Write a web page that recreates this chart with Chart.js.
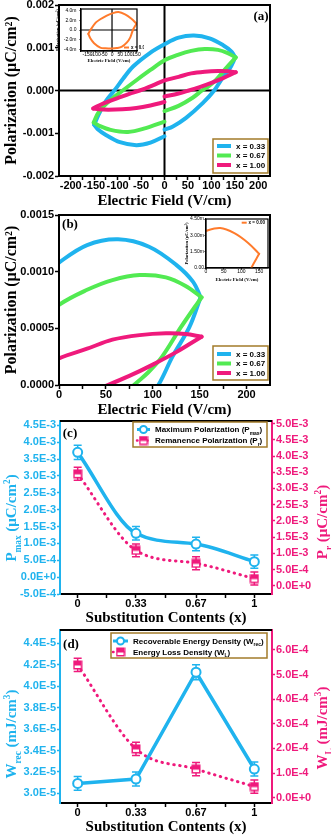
<!DOCTYPE html>
<html>
<head>
<meta charset="utf-8">
<title>P-E loops and energy density</title>
<script src="https://cdn.jsdelivr.net/npm/chart.js@4.4.1/dist/chart.umd.min.js"></script>
<style>
  body { margin: 0; background: #fff; }
  #fig { position: relative; width: 331px; height: 836px; overflow: hidden; background: #fff; }
  #fig canvas { position: absolute; }
</style>
</head>
<body>
<div id="fig">
  <canvas id="panelA" width="331" height="210" style="left:0;top:0"></canvas>
  <canvas id="panelB" width="331" height="211" style="left:0;top:207px"></canvas>
  <canvas id="panelC" width="331" height="212" style="left:0;top:414px"></canvas>
  <canvas id="panelD" width="331" height="214" style="left:0;top:622px"></canvas>
  <canvas id="insetA" width="90" height="62" style="left:54px;top:5px"></canvas>
  <canvas id="insetB" width="90" height="70" style="left:183px;top:214px"></canvas>
</div>
<script>
// ---------- data ----------
const fieldTicksA = [-200, -150, -100, -50, 0, 50, 100, 150, 200];
const fieldTicksB = [0, 50, 100, 150, 200];
const polTicksA = [-0.002, -0.001, 0, 0.001, 0.002];
const polTicksB = [0, 0.0005, 0.001, 0.0015];
const insetFieldTicksA = [-150, -100, -50, 0, 50, 100, 150];
const insetFieldTicksB = [0, 50, 100, 150];
const insetPolTicksA = [-0.004, -0.002, 0, 0.002, 0.004];
const insetPolTicksB = [0, 0.0015, 0.003, 0.0045];

const loopLabels = ['x = 0.33', 'x = 0.67', 'x = 1.00'];
const insetLabel = 'x = 0.00';

// [E (V/cm), P (µC/cm²)], upper branch left tip -> right tip, lower branch back
const loop033Up = [[-150, -0.80e-3], [-139, -0.53e-3], [-125, -0.25e-3], [-107, 0], [-88, 0.28e-3], [-67, 0.56e-3],
  [-32, 0.87e-3], [0, 1.08e-3], [30, 1.235e-3], [63, 1.285e-3], [96, 1.22e-3], [125, 1.06e-3], [143, 0.91e-3], [151, 0.774e-3]];
const loop033Down = [[151, 0.774e-3], [139, 0.51e-3], [121, 0.25e-3], [106, 0], [82, -0.29e-3], [46, -0.64e-3], [18, -0.84e-3],
  [0, -0.915e-3], [0, null], [0, -1.07e-3], [-30, -1.22e-3], [-60, -1.28e-3], [-95, -1.21e-3], [-125, -1.04e-3], [-143, -0.90e-3], [-150, -0.80e-3]];
const loop067Up = [[-151, -0.75e-3], [-140, -0.50e-3], [-115, -0.22e-3], [-89, 0], [-60, 0.24e-3], [-30, 0.48e-3], [0, 0.706e-3],
  [30, 0.84e-3], [57, 0.926e-3], [86, 0.97e-3], [114, 0.95e-3], [135, 0.874e-3], [152, 0.774e-3]];
const loop067Down = [[152, 0.774e-3], [130, 0.51e-3], [110, 0.25e-3], [95, 0.11e-3], [80, 0], [60, -0.17e-3], [30, -0.36e-3],
  [0, -0.48e-3], [0, null], [0, -0.73e-3], [-40, -0.88e-3], [-78, -0.97e-3], [-115, -0.92e-3], [-140, -0.82e-3], [-151, -0.75e-3]];
const loop100Up = [[-152, -0.42e-3], [-130, -0.30e-3], [-100, -0.18e-3], [-75, -0.08e-3], [-53, 0], [-25, 0.12e-3], [0, 0.235e-3],
  [30, 0.32e-3], [57, 0.40e-3], [86, 0.44e-3], [114, 0.456e-3], [135, 0.45e-3], [152, 0.426e-3]];
const loop100Down = [[152, 0.426e-3], [125, 0.29e-3], [100, 0.18e-3], [75, 0.08e-3], [52, 0], [30, -0.07e-3], [0, -0.14e-3],
  [0, null], [0, -0.27e-3], [-30, -0.35e-3], [-60, -0.41e-3], [-90, -0.44e-3], [-120, -0.45e-3], [-140, -0.44e-3], [-152, -0.42e-3]];
const loop000Up = [[-145, -0.8e-3], [-132, 0], [-100, 1.5e-3], [-72, 2.2e-3], [-35, 2.9e-3], [0, 3.4e-3], [40, 3.67e-3],
  [80, 3.2e-3], [119, 2.3e-3], [150, 1.3e-3]];
const loop000Down = [[150, 1.3e-3], [128, 0], [112, -1.5e-3], [90, -2.6e-3], [61, -3.4e-3], [30, -3.7e-3], [0, -3.8e-3],
  [-40, -3.75e-3], [-72, -3.6e-3], [-110, -2.7e-3], [-133, -1.7e-3], [-145, -0.8e-3]];

const contents = [0, 0.33, 0.67, 1];
const contentLabels = ['0', '0.33', '0.67', '1'];
const contentMinor = [0.165, 0.5, 0.835];
const pMax = [3.70e-3, 1.30e-3, 0.98e-3, 0.46e-3];
const pMaxErr = [0.21e-3, 0.2e-3, 0.2e-3, 0.2e-3];
const pR = [3.45e-3, 1.09e-3, 0.69e-3, 0.22e-3];
const pRErr = [0.2e-3, 0.2e-3, 0.2e-3, 0.2e-3];
const wRec = [3.093e-5, 3.134e-5, 4.13e-5, 3.227e-5];
const wRecErr = [0.065e-5, 0.065e-5, 0.07e-5, 0.065e-5];
const wL = [5.39e-4, 1.98e-4, 1.16e-4, 0.45e-4];
const wLErr = [0.27e-4, 0.27e-4, 0.27e-4, 0.27e-4];

const pMaxTicks = [-5e-4, 0, 5e-4, 1e-3, 1.5e-3, 2e-3, 2.5e-3, 3e-3, 3.5e-3, 4e-3, 4.5e-3];
const pRTicks = [0, 5e-4, 1e-3, 1.5e-3, 2e-3, 2.5e-3, 3e-3, 3.5e-3, 4e-3, 4.5e-3, 5e-3];
const wRecTicks = [3.0e-5, 3.2e-5, 3.4e-5, 3.6e-5, 3.8e-5, 4.0e-5, 4.2e-5, 4.4e-5];
const wLTicks = [0, 1e-4, 2e-4, 3e-4, 4e-4, 5e-4, 6e-4];

// ---------- style ----------
const SANS = "'Liberation Sans', Arial, sans-serif";
const SERIF = "'Liberation Serif', 'Times New Roman', serif";
const CYAN = '#1fb3ee';
const GREEN = '#52ea52';
const PINK = '#ef1a7c';
const ORANGE = '#ff7b2c';
const GOLD = '#a27b2a';

Chart.defaults.animation = false;
Chart.defaults.events = [];
Chart.defaults.font.family = SANS;
Chart.defaults.plugins.legend.display = false;
Chart.defaults.plugins.tooltip.enabled = false;

function midpoints(vals) {
  const m = [];
  for (let i = 1; i < vals.length; i++) m.push((vals[i - 1] + vals[i]) / 2);
  return m;
}

function axis(o) {
  const horiz = o.position === 'bottom';
  const color = o.color || '#000';
  const bw = o.border || 2;
  return {
    type: 'linear', position: o.position, min: o.min, max: o.max,
    afterBuildTicks: (s) => {
      s.ticks = o.ticks.concat(o.minor || []).sort((a, b) => a - b).map(v => ({ value: v }));
    },
    afterFit: horiz
      ? (s) => { s.height = o.fit; s.paddingLeft = 0; s.paddingRight = 0; }
      : (s) => { s.width = o.fit; s.paddingTop = 0; s.paddingBottom = 0; },
    grid: { drawOnChartArea: false, drawTicks: true, tickLength: o.tickLen || 4, tickColor: color, tickWidth: bw * 0.75 },
    border: { display: true, color, width: bw },
    ticks: {
      autoSkip: false, maxRotation: 0, minRotation: 0, padding: o.pad || 0, color,
      font: { family: SANS, size: o.size || 11, weight: o.weight || 'bold', lineHeight: 1 },
      callback: (v) => {
        const i = o.ticks.indexOf(v);
        return i < 0 ? '' : (o.labels ? o.labels[i] : o.fmt(v));
      }
    },
    title: o.title ? {
      display: true, text: o.title, color,
      font: { family: SERIF, size: o.titleSize || 15, weight: 'bold', lineHeight: 1 },
      padding: o.titlePad
    } : { display: false }
  };
}

function drawRich(ctx, parts, x, y, size, color, opt) {
  const o = opt || {};
  const family = o.family || SERIF;
  ctx.save();
  ctx.translate(x, y);
  if (o.rot) ctx.rotate(o.rot);
  ctx.fillStyle = color;
  ctx.textBaseline = 'alphabetic';
  ctx.textAlign = 'left';
  const items = parts.map(([t, k]) => {
    const s = k ? size * 0.62 : size;
    ctx.font = `bold ${s}px ${family}`;
    return { t, k, s, w: ctx.measureText(t).width };
  });
  const total = items.reduce((n, it) => n + it.w, 0);
  let cx = o.align === 'left' ? 0 : -total / 2;
  items.forEach(it => {
    ctx.font = `bold ${it.s}px ${family}`;
    const dy = it.k === 'sub' ? size * 0.3 : it.k === 'sup' ? -size * 0.4 : 0;
    ctx.fillText(it.t, cx, size * 0.35 + dy);
    cx += it.w;
  });
  ctx.restore();
}

function halfSquare(color) {
  const c = document.createElement('canvas');
  c.width = 10; c.height = 10;
  const g = c.getContext('2d');
  g.fillStyle = '#fff'; g.fillRect(1, 1, 8, 8);
  g.fillStyle = color; g.fillRect(1, 1, 8, 4.5);
  g.strokeStyle = color; g.lineWidth = 1.5; g.strokeRect(1.25, 1.25, 7.5, 7.5);
  return c;
}
const pinkSquare = halfSquare(PINK);

function drawLegend(ctx, L) {
  ctx.save();
  if (L.box) {
    ctx.strokeStyle = GOLD; ctx.lineWidth = 1.5;
    ctx.strokeRect(L.box[0], L.box[1], L.box[2], L.box[3]);
  }
  L.rows.forEach(r => {
    ctx.save();
    ctx.strokeStyle = r.color; ctx.lineWidth = r.width;
    if (r.dotted) { ctx.setLineDash([0.5, 4.5]); ctx.lineCap = 'round'; }
    ctx.beginPath(); ctx.moveTo(L.x0, r.y); ctx.lineTo(L.x1, r.y); ctx.stroke();
    ctx.restore();
    const mx = (L.x0 + L.x1) / 2;
    if (r.marker === 'circle') {
      ctx.fillStyle = '#fff'; ctx.strokeStyle = r.color; ctx.lineWidth = 2;
      ctx.beginPath(); ctx.arc(mx, r.y, 3.5, 0, Math.PI * 2); ctx.fill(); ctx.stroke();
    } else if (r.marker) {
      ctx.drawImage(r.marker, mx - 5, r.y - 5);
    }
    drawRich(ctx, r.parts, L.tx, r.y, L.size, '#000', { family: SANS, align: 'left' });
  });
  ctx.restore();
}

function drawErrorBars(chart) {
  const ctx = chart.ctx;
  chart.data.datasets.forEach((ds, i) => {
    if (!ds.errors) return;
    const ys = chart.scales[ds.yAxisID || 'y'];
    const meta = chart.getDatasetMeta(i);
    ctx.save();
    ctx.strokeStyle = ds.borderColor; ctx.lineWidth = 1.5;
    meta.data.forEach((pt, j) => {
      const v = ds.data[j].y, e = ds.errors[j];
      const t = ys.getPixelForValue(v + e), b = ys.getPixelForValue(v - e);
      ctx.beginPath();
      ctx.moveTo(pt.x, t); ctx.lineTo(pt.x, b);
      ctx.moveTo(pt.x - 4, t); ctx.lineTo(pt.x + 4, t);
      ctx.moveTo(pt.x - 4, b); ctx.lineTo(pt.x + 4, b);
      ctx.stroke();
    });
    ctx.restore();
  });
}

function decor(spec) {
  return {
    id: 'decor',
    beforeDatasetsDraw(chart) {
      const { ctx, chartArea: a, scales } = chart;
      if (spec.cross) {
        const x0 = scales.x.getPixelForValue(0), y0 = scales.y.getPixelForValue(0);
        ctx.save();
        ctx.strokeStyle = '#000'; ctx.lineWidth = spec.cross;
        ctx.beginPath();
        ctx.moveTo(x0, a.top); ctx.lineTo(x0, a.bottom);
        ctx.moveTo(a.left, y0); ctx.lineTo(a.right, y0);
        ctx.stroke();
        ctx.restore();
      }
      if (spec.errors) drawErrorBars(chart);
    },
    afterDraw(chart) {
      const { ctx, chartArea: a } = chart;
      if (spec.frame) {
        ctx.save();
        ctx.strokeStyle = '#000'; ctx.lineWidth = spec.frame;
        if (spec.topOnly) {
          ctx.beginPath(); ctx.moveTo(a.left, a.top); ctx.lineTo(a.right, a.top); ctx.stroke();
        } else {
          ctx.strokeRect(a.left, a.top, a.right - a.left, a.bottom - a.top);
        }
        ctx.restore();
      }
      if (spec.letter) drawRich(ctx, [[spec.letter[0]]], spec.letter[1], spec.letter[2], 13, '#000');
      (spec.titles || []).forEach(t => drawRich(ctx, t.parts, t.x, t.y, t.size, t.color, { rot: -Math.PI / 2 }));
      if (spec.legend) drawLegend(ctx, spec.legend);
    }
  };
}

function branch(points, color, width, order) {
  return {
    data: points.map(([x, y]) => ({ x, y })),
    borderColor: color, borderWidth: width, pointRadius: 0, tension: 0.35,
    borderCapStyle: 'round', borderJoinStyle: 'round',
    fill: false, spanGaps: false, clip: 0, order
  };
}
function mainLoops() {
  return [
    branch(loop033Up, CYAN, 4, 3), branch(loop033Down, CYAN, 4, 3),
    branch(loop067Up, GREEN, 4, 2), branch(loop067Down, GREEN, 4, 2),
    branch(loop100Up, PINK, 4, 1), branch(loop100Down, PINK, 4, 1)
  ];
}
const loopColors = [CYAN, GREEN, PINK];
function loopLegend(rowsY) {
  return {
    box: [213, 139, 55, 34], x0: 217, x1: 231, tx: 236, size: 8,
    rows: loopLabels.map((t, i) => ({ y: rowsY[i], color: loopColors[i], width: 4, parts: [[t]] }))
  };
}
const polTitle = 'Polarization (μC/cm²)';
const fieldTitle = 'Electric Field (V/cm)';

// ---------- (a) full loops ----------
new Chart(document.getElementById('panelA'), {
  type: 'line',
  data: { datasets: mainLoops() },
  options: {
    responsive: false, devicePixelRatio: 1,
    layout: { padding: { left: 0, right: 61, top: 5, bottom: 0 } },
    scales: {
      x: axis({ position: 'bottom', min: -225, max: 225, ticks: fieldTicksA, minor: midpoints(fieldTicksA), fmt: String, fit: 34,
        title: fieldTitle, titlePad: { top: 0, bottom: 1 } }),
      y: axis({ position: 'left', min: -0.002, max: 0.002, ticks: polTicksA, fmt: v => v.toFixed(3), fit: 59, pad: 1,
        title: polTitle, titleSize: 16, titlePad: { top: 4, bottom: 0 } })
    }
  },
  plugins: [decor({ cross: 2, frame: 2, letter: ['(a)', 261, 15], legend: loopLegend([146, 155.5, 165]) })]
});

// ---------- (b) first quadrant ----------
new Chart(document.getElementById('panelB'), {
  type: 'line',
  data: { datasets: mainLoops() },
  options: {
    responsive: false, devicePixelRatio: 1,
    layout: { padding: { left: 0, right: 61, top: 8, bottom: 0 } },
    scales: {
      x: axis({ position: 'bottom', min: 0, max: 225, ticks: fieldTicksB, minor: midpoints(fieldTicksB), fmt: String, fit: 33,
        title: fieldTitle, titlePad: { top: 0, bottom: 0.5 } }),
      y: axis({ position: 'left', min: 0, max: 0.0015, ticks: polTicksB, fmt: v => v.toFixed(4), fit: 59, pad: 1,
        title: polTitle, titleSize: 16, titlePad: { top: 4, bottom: 0 } })
    }
  },
  plugins: [decor({ frame: 2, letter: ['(b)', 70, 16], legend: loopLegend([147, 156.5, 166]) })]
});

// ---------- insets (x = 0.00) ----------
function insetChart(id, o) {
  new Chart(document.getElementById(id), {
    type: 'line',
    data: { datasets: [branch(loop000Up, ORANGE, 2, 1), branch(loop000Down, ORANGE, 2, 1)] },
    options: {
      responsive: false, devicePixelRatio: 1,
      layout: { padding: { left: 0, right: o.right, top: o.top, bottom: 0 } },
      scales: {
        x: axis({ position: 'bottom', min: o.xmin, max: o.xmax, ticks: o.xticks, fmt: String, fit: o.xfit, size: 5, weight: 'normal',
          tickLen: 1.5, border: 1.2, title: fieldTitle, titleSize: 4.8, titlePad: { top: 0, bottom: o.xtpad } }),
        y: axis({ position: 'left', min: o.ymin, max: o.ymax, ticks: o.yticks, fmt: o.yfmt, fit: o.yfit, size: 5, weight: 'normal',
          tickLen: 1.5, pad: o.ypad, border: 1.2, title: polTitle, titleSize: 4.5, titlePad: { top: o.ytpad, bottom: 0 } })
      }
    },
    plugins: [decor({ cross: o.cross, frame: 1.2, legend: {
      x0: o.leg[0], x1: o.leg[1], tx: o.leg[2], size: 4.5,
      rows: [{ y: o.leg[3], color: ORANGE, width: 2, parts: [[insetLabel]] }] } })]
  });
}
insetChart('insetA', {
  right: 7, top: 4, xmin: -190, xmax: 153, xticks: insetFieldTicksA, xfit: 16, xtpad: 3.5,
  ymin: -0.0043, ymax: 0.0043, yticks: insetPolTicksA, yfit: 27, ypad: 3, ytpad: 2, cross: 1.2,
  yfmt: v => (v === 0 ? '0.0' : (v * 1000).toFixed(1) + 'm'),
  leg: [70, 75, 77, 42.5]
});
insetChart('insetB', {
  right: 5, top: 5, xmin: 0, xmax: 175, xticks: insetFieldTicksB, xfit: 16, xtpad: 2.2,
  ymin: 0, ymax: 0.0045, yticks: insetPolTicksB, yfit: 23, ypad: 0.5, ytpad: 1.5, cross: 0,
  yfmt: v => (v === 0 ? '0.00' : (v * 1000).toFixed(2) + 'm'),
  leg: [58.7, 63.7, 65.5, 8.7]
});

// ---------- (c) polarization vs content ----------
const expFmt = v => v.toExponential(1).toUpperCase();
const rowsOf = (ys) => contents.map((c, i) => ({ x: c, y: ys[i] }));

new Chart(document.getElementById('panelC'), {
  type: 'line',
  data: {
    datasets: [
      { data: rowsOf(pMax), errors: pMaxErr, yAxisID: 'y', borderColor: CYAN, borderWidth: 3.5,
        cubicInterpolationMode: 'monotone', pointStyle: 'circle', pointRadius: 4.5, pointBorderWidth: 2,
        pointBackgroundColor: '#fff', pointBorderColor: CYAN, clip: 0, order: 1 },
      { data: rowsOf(pR), errors: pRErr, yAxisID: 'y1', borderColor: PINK, borderWidth: 3,
        borderDash: [0.5, 5.5], borderCapStyle: 'round', cubicInterpolationMode: 'monotone',
        pointStyle: pinkSquare, clip: 0, order: 2 }
    ]
  },
  options: {
    responsive: false, devicePixelRatio: 1,
    layout: { padding: { left: 0, right: 0, top: 6, bottom: 0 } },
    scales: {
      x: axis({ position: 'bottom', min: -0.1, max: 1.1, ticks: contents, labels: contentLabels, minor: contentMinor, fit: 32,
        title: 'Substitution Contents (x)', titlePad: { top: 0, bottom: 0.5 } }),
      y: axis({ position: 'left', min: -5e-4, max: 4.63e-3, ticks: pMaxTicks, fmt: expFmt, fit: 60, pad: 1, tickLen: 3, color: CYAN }),
      y1: axis({ position: 'right', min: -2.56e-4, max: 5.08e-3, ticks: pRTicks, fmt: expFmt, fit: 59, pad: 1, tickLen: 3, color: PINK })
    }
  },
  plugins: [decor({
    errors: true, frame: 2, topOnly: true, letter: ['(c)', 70, 18],
    titles: [
      { parts: [['P'], ['max', 'sub'], [' (μC/cm'], ['2', 'sup'], [')']], x: 11, y: 104, size: 15, color: CYAN },
      { parts: [['P'], ['r', 'sub'], [' (μC/cm'], ['2', 'sup'], [')']], x: 322, y: 108, size: 15, color: PINK }
    ],
    legend: {
      box: [133, 8, 134, 25], x0: 137, x1: 150, tx: 155, size: 8,
      rows: [
        { y: 15.5, color: CYAN, width: 3, marker: 'circle', parts: [['Maximum Polarization (P'], ['max', 'sub'], [')']] },
        { y: 26.5, color: PINK, width: 2.5, dotted: true, marker: pinkSquare, parts: [['Remanence Polarization (P'], ['r', 'sub'], [')']] }
      ]
    }
  })]
});

// ---------- (d) energy density vs content ----------
new Chart(document.getElementById('panelD'), {
  type: 'line',
  data: {
    datasets: [
      { data: rowsOf(wRec), errors: wRecErr, yAxisID: 'y', borderColor: CYAN, borderWidth: 3.5, tension: 0,
        pointStyle: 'circle', pointRadius: 4.5, pointBorderWidth: 2,
        pointBackgroundColor: '#fff', pointBorderColor: CYAN, clip: 0, order: 1 },
      { data: rowsOf(wL), errors: wLErr, yAxisID: 'y1', borderColor: PINK, borderWidth: 3,
        borderDash: [0.5, 5.5], borderCapStyle: 'round', cubicInterpolationMode: 'monotone',
        pointStyle: pinkSquare, clip: 0, order: 2 }
    ]
  },
  options: {
    responsive: false, devicePixelRatio: 1,
    layout: { padding: { left: 0, right: 0, top: 8, bottom: 0 } },
    scales: {
      x: axis({ position: 'bottom', min: -0.1, max: 1.1, ticks: contents, labels: contentLabels, minor: contentMinor, fit: 33,
        title: 'Substitution Contents (x)', titlePad: { top: 0, bottom: 1.8 } }),
      y: axis({ position: 'left', min: 2.91e-5, max: 4.524e-5, ticks: wRecTicks, fmt: expFmt, fit: 60, pad: 1, tickLen: 3, color: CYAN }),
      y1: axis({ position: 'right', min: -0.217e-4, max: 6.81e-4, ticks: wLTicks, fmt: expFmt, fit: 59, pad: 1, tickLen: 3, color: PINK })
    }
  },
  plugins: [decor({
    errors: true, frame: 2, topOnly: true, letter: ['(d)', 71, 21],
    titles: [
      { parts: [['W'], ['rec', 'sub'], [' (mJ/cm'], ['3', 'sup'], [')']], x: 11, y: 112, size: 15, color: CYAN },
      { parts: [['W'], ['L', 'sub'], [' (mJ/cm'], ['3', 'sup'], [')']], x: 322, y: 106, size: 15, color: PINK }
    ],
    legend: {
      box: [111, 11, 156, 25], x0: 113, x1: 128, tx: 133, size: 8,
      rows: [
        { y: 19, color: CYAN, width: 3, marker: 'circle', parts: [['Recoverable Energy Density (W'], ['rec', 'sub'], [')']] },
        { y: 30, color: PINK, width: 2.5, dotted: true, marker: pinkSquare, parts: [['Energy Loss Density (W'], ['L', 'sub'], [')']] }
      ]
    }
  })]
});
</script>
</body>
</html>
